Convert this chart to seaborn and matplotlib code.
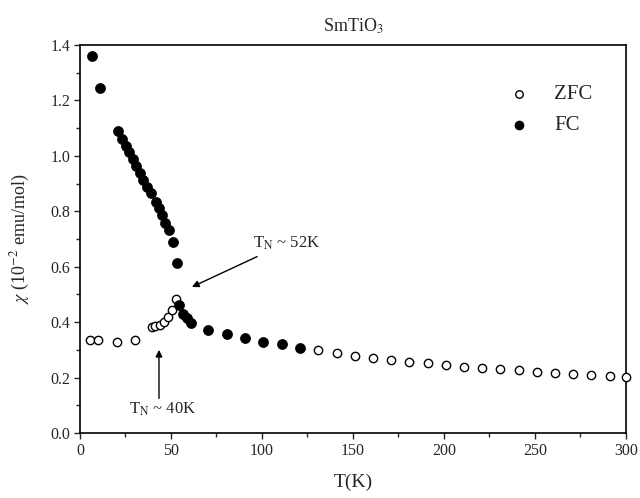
import numpy as np
import pandas as pd
import matplotlib
matplotlib.use("Agg")
import matplotlib.pyplot as plt
from matplotlib.ticker import MultipleLocator
import seaborn as sns

# ---------------------------------------------------------
# Data (T in K, chi in 1e-2 emu/mol)
# ---------------------------------------------------------
zfc_T = [5.5, 9.9, 20.3, 30.2, 39.6, 41.2, 44.0, 46.2, 48.4, 50.5, 52.7,
         131, 141, 151, 161, 171, 181, 191, 201, 211, 221, 231, 241,
         251, 261, 271, 281, 291, 300]
zfc_chi = [0.334, 0.334, 0.330, 0.334, 0.383, 0.386, 0.390, 0.401, 0.419, 0.444, 0.484,
           0.300, 0.289, 0.278, 0.271, 0.263, 0.256, 0.253, 0.245, 0.238, 0.235, 0.231, 0.227,
           0.220, 0.217, 0.213, 0.209, 0.206, 0.202]

fc_T = [6.6, 11.0, 20.9, 23.1, 25.3, 26.9, 29.1, 30.8, 33.0, 34.6, 36.8, 39.0,
        41.8, 43.4, 45.1, 46.7, 48.9, 51.1, 53.3, 54.4, 56.6, 58.8, 61.0,
        70.3, 80.8, 90.7, 100.5, 111.0, 120.9]
fc_chi = [1.361, 1.245, 1.090, 1.061, 1.036, 1.014, 0.989, 0.964, 0.938, 0.913, 0.888, 0.866,
          0.834, 0.812, 0.787, 0.758, 0.733, 0.689, 0.613, 0.462, 0.429, 0.415, 0.397,
          0.372, 0.357, 0.343, 0.328, 0.321, 0.307]

x_ticks = [0, 50, 100, 150, 200, 250, 300]
y_ticks = [0.0, 0.2, 0.4, 0.6, 0.8, 1.0, 1.2, 1.4]

zfc = pd.DataFrame({"T": zfc_T, "chi": zfc_chi})
fc = pd.DataFrame({"T": fc_T, "chi": fc_chi})

# ---------------------------------------------------------
# Style
# ---------------------------------------------------------
sns.set_style("ticks")
plt.rcParams["font.family"] = ["Liberation Serif", "DejaVu Serif"]
plt.rcParams["mathtext.fontset"] = "stix"

fig = plt.figure(figsize=(6.4, 4.98), dpi=100)
ax = fig.add_axes([0.125, 0.1305, 0.853, 0.7791])

sns.scatterplot(data=zfc, x="T", y="chi", ax=ax, marker="o", s=36,
                facecolor="white", edgecolor="black", linewidth=1.0,
                label="ZFC", clip_on=False, zorder=3)
sns.scatterplot(data=fc, x="T", y="chi", ax=ax, marker="o", s=52,
                color="black", edgecolor="black", linewidth=0.5,
                label="FC", clip_on=False, zorder=4)

ax.set_xlim(0, 300)
ax.set_ylim(0.0, 1.4)
ax.set_xticks(x_ticks)
ax.set_yticks(y_ticks)
ax.set_xticklabels([str(t) for t in x_ticks])
ax.set_yticklabels([f"{t:.1f}" for t in y_ticks])
ax.xaxis.set_minor_locator(MultipleLocator(25))
ax.yaxis.set_minor_locator(MultipleLocator(0.1))
ax.tick_params(which="major", direction="out", length=4, width=1.0,
               labelsize=11.5, top=False, right=False, pad=3)
ax.tick_params(which="minor", direction="out", length=3, width=1.0,
               top=False, right=False)
for sp in ax.spines.values():
    sp.set_visible(True)
    sp.set_linewidth(1.2)
    sp.set_color("black")

ax.set_xlabel("T(K)", fontsize=14, labelpad=11)
ax.set_ylabel(r"$\chi$ (10$^{-2}$ emu/mol)", fontsize=13, labelpad=13)
ax.set_title(r"SmTiO$_3$", fontsize=13, pad=10)

# annotations for the transitions
ax.annotate(r"T$_\mathrm{N}$ ~ 52K", xy=(61.5, 0.527), xytext=(95, 0.686),
            fontsize=12, va="center", ha="left",
            arrowprops=dict(arrowstyle="-|>", color="black", lw=1.0,
                            shrinkA=3, shrinkB=0, mutation_scale=10))
ax.annotate("", xy=(43.4, 0.300), xytext=(43.4, 0.125),
            arrowprops=dict(arrowstyle="-|>", color="black", lw=1.0,
                            shrinkA=0, shrinkB=0, mutation_scale=10))
ax.text(27, 0.085, r"T$_\mathrm{N}$ ~ 40K", fontsize=12, va="center", ha="left")

leg = ax.legend(loc="upper left", bbox_to_anchor=(0.75, 0.92), frameon=False,
                fontsize=15, handletextpad=0.7, labelspacing=0.55,
                markerscale=0.9, borderaxespad=0)

fig.savefig("out.png", dpi=100)
